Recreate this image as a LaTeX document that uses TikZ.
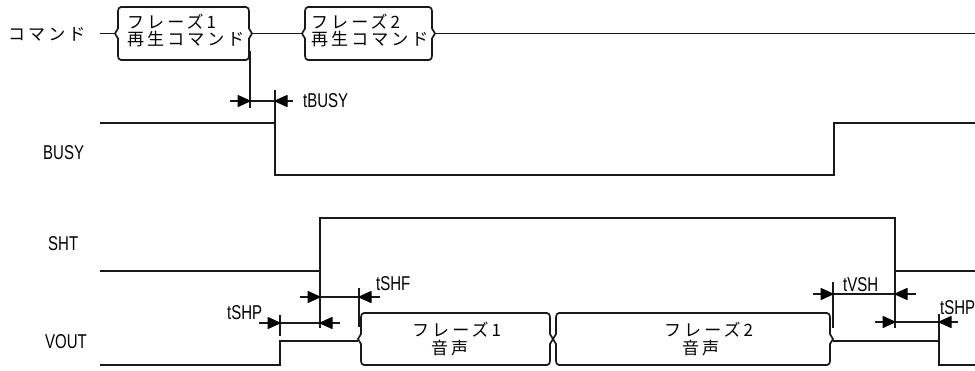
\documentclass[tikz,border=0pt]{standalone}
\usepackage{fontspec}
\newfontfamily\jpfont[LetterSpace=18]{Noto Sans CJK JP}
\newfontfamily\labfont[FakeStretch=0.75]{Liberation Sans}
\usetikzlibrary{arrows.meta}
\newcommand{\busbox}[4]{% left point, right point, top, bottom
  \pgfmathsetmacro{\bbM}{(#3+#4)/2}
  \draw[sig] ({#1+6},#3) -- ({#2-6},#3) to[out=0,in=90] ({#2-3},{#3+4}) -- ({#2-3},{\bbM-5}) -- (#2,\bbM) -- ({#2-3},{\bbM+5}) -- ({#2-3},{#4-4}) to[out=-90,in=0] ({#2-6},#4) -- ({#1+6},#4) to[out=180,in=-90] ({#1+3},{#4-4}) -- ({#1+3},{\bbM+5}) -- (#1,\bbM) -- ({#1+3},{\bbM-5}) -- ({#1+3},{#3+4}) to[out=90,in=180] cycle;
}
\begin{document}
\begin{tikzpicture}[x=1pt,y=-1pt,
  sig/.style={line width=1.7pt, draw=black!90, line join=miter},
  ext/.style={line width=1.7pt, draw=black!90},
  rhead/.pic={\filldraw[black, line width=1pt, line join=round] (0,0) -- (-12,-5.5) -- (-12,5.5) -- cycle;},
  lhead/.pic={\filldraw[black, line width=1pt, line join=round] (0,0) -- (12,-5.5) -- (12,5.5) -- cycle;},
  jp/.style={inner sep=0pt, anchor=west, font=\jpfont\fontsize{17}{19}\selectfont},
  lab/.style={inner sep=0pt, anchor=base west, font=\labfont\fontsize{20}{22}\selectfont}]
\fill[white] (0,0) rectangle (975,370);
\useasboundingbox (0,0) rectangle (975,370);

% signal labels
\node[jp] (lcmd) at (8,34) {コマンド};
\node[lab] (lbusy) at (43,159.5) {BUSY};
\node[lab] (lsht) at (48,250) {SHT};
\node[lab] (lvout) at (45,348) {VOUT};

% command line
\coordinate (cst) at (100,33.5);
\coordinate (c1L) at (115,33.5);
\coordinate (c1R) at (252,33.5);
\coordinate (c2L) at (302,33.5);
\coordinate (c2R) at (435,33.5);
\coordinate (cend) at (975,33.5);
\draw[sig] (cst) -- (c1L);
\busbox{115}{252}{7}{60}
\draw[sig] (c1R) -- (c2L);
\busbox{302}{435}{7}{60}
\draw[sig] (c2R) -- (cend);
\node[jp] (p1a) at (127,22) {フレーズ1};
\node[jp] (p1b) at (127,39) {再生コマンド};
\node[jp] (p2a) at (311,22) {フレーズ2};
\node[jp] (p2b) at (311,39) {再生コマンド};

% BUSY
\draw[sig] (100,123) -- (275,123) -- (275,175) -- (834,175) -- (834,123) -- (975,123);
% SHT
\draw[sig] (100,271) -- (320,271) -- (320,218) -- (895,218) -- (895,271) -- (975,271);
% VOUT
\draw[sig] (100,365) -- (280,365) -- (280,341) -- (358,341);
\busbox{358}{553}{313}{365}
\busbox{553}{833}{313}{365}
\draw[sig] (833,341) -- (939,341) -- (939,365) -- (975,365);
\node[jp] (v1a) at (412,330) {フレーズ1};
\node[jp] (v1b) at (431,348) {音声};
\node[jp] (v2a) at (664,330) {フレーズ2};
\node[jp] (v2b) at (682,348) {音声};

% tBUSY
\draw[ext] (250,51) -- (250,108);
\draw[ext] (275,90) -- (275,123);
\coordinate (tb1) at (250,101);
\coordinate (tb2) at (275,101);
\draw[ext] (230,101) -- (tb1) -- (tb2) -- (293,101);
\pic at (tb1) {rhead};
\pic at (tb2) {lhead};
\node[lab] (ltbusy) at (303,107) {tBUSY};

% tSHP (left)
\draw[ext] (320,271) -- (320,328);
\draw[ext] (280,315) -- (280,336);
\coordinate (sp1) at (280,323);
\coordinate (sp2) at (320,323);
\draw[ext] (259,323) -- (sp1) -- (sp2) -- (340,323);
\pic at (sp1) {rhead};
\pic at (sp2) {lhead};
\node[lab] (ltshp) at (227,319) {tSHP};

% tSHF
\draw[ext] (359,288) -- (359,327);
\coordinate (sf1) at (320,297);
\coordinate (sf2) at (359,297);
\draw[ext] (300,297) -- (sf1) -- (sf2) -- (380,297);
\pic at (sf1) {rhead};
\pic at (sf2) {lhead};
\node[lab] (ltshf) at (376,290) {tSHF};

% tVSH
\draw[ext] (833,282) -- (833,328);
\draw[ext] (895,271) -- (895,328);
\coordinate (vs1) at (833,294);
\coordinate (vs2) at (895,294);
\draw[ext] (813,294) -- (vs1) -- (vs2) -- (916,294);
\pic at (vs1) {rhead};
\pic at (vs2) {lhead};
\node[lab] (ltvsh) at (843,291) {tVSH};

% tSHP (right)
\draw[ext] (939,314) -- (939,341);
\coordinate (sq1) at (895,322);
\coordinate (sq2) at (939,322);
\draw[ext] (875,322) -- (sq1) -- (sq2) -- (958,322);
\pic at (sq1) {rhead};
\pic at (sq2) {lhead};
\node[lab] (ltshp2) at (940,314) {tSHP};
\end{tikzpicture}
\end{document}
